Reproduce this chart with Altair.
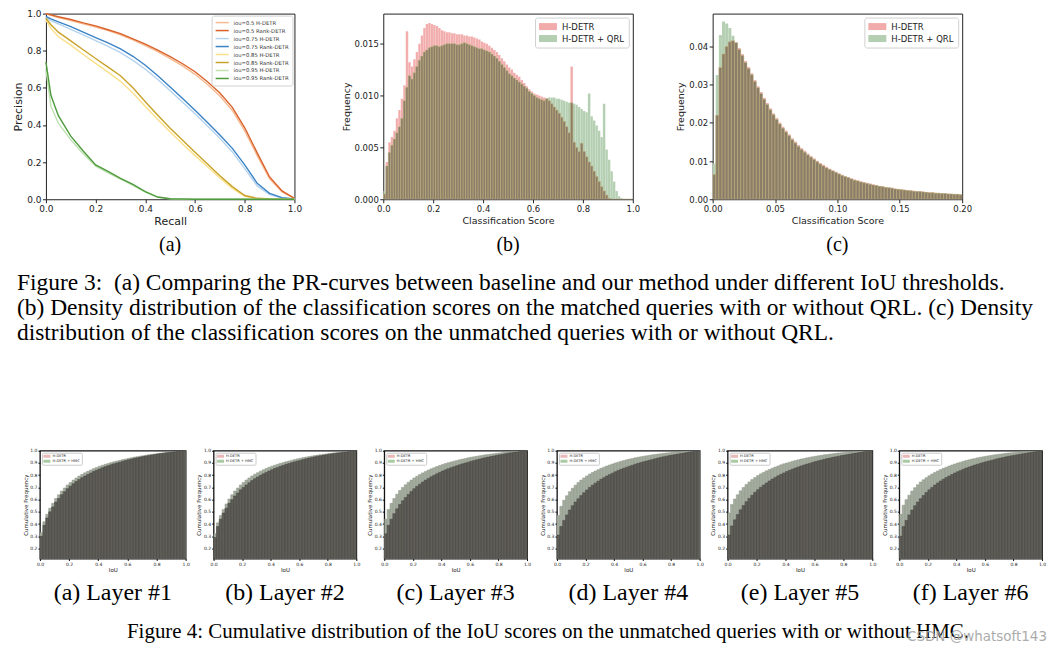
import altair as alt
import numpy as np
import pandas as pd

SANS = "DejaVu Sans"
SERIF = "Liberation Serif"

# ---------------- Figure 3 (a): PR curves ----------------
RECALL = [0.0, 0.02, 0.05, 0.1, 0.15, 0.2, 0.25, 0.3, 0.35, 0.4, 0.45, 0.5,
          0.55, 0.6, 0.65, 0.7, 0.75, 0.8, 0.85, 0.9, 0.95, 1.0]
PR_NAMES = ["iou=0.5 H-DETR", "iou=0.5 Rank-DETR", "iou=0.75 H-DETR", "iou=0.75 Rank-DETR",
            "iou=0.85 H-DETR", "iou=0.85 Rank-DETR", "iou=0.95 H-DETR", "iou=0.95 Rank-DETR"]
PR_COLORS = ["#f7b98f", "#d9622b", "#b5d3ef", "#3b83c5", "#fbe08a", "#c9a229", "#bfe2b1", "#4e9a3d"]
P05_H = [1.0, 0.99, 0.978, 0.962, 0.945, 0.928, 0.908, 0.886, 0.858, 0.828, 0.795, 0.758,
         0.718, 0.673, 0.618, 0.556, 0.478, 0.368, 0.235, 0.11, 0.04, 0.004]
P05_R = [1.0, 0.993, 0.983, 0.968, 0.95, 0.934, 0.913, 0.892, 0.864, 0.835, 0.803, 0.768,
         0.73, 0.687, 0.633, 0.572, 0.495, 0.385, 0.25, 0.12, 0.045, 0.005]
P075_H = [0.98, 0.962, 0.945, 0.915, 0.885, 0.855, 0.824, 0.79, 0.748, 0.7, 0.645, 0.585,
          0.522, 0.46, 0.395, 0.328, 0.255, 0.165, 0.072, 0.025, 0.006, 0.001]
P075_R = [0.985, 0.972, 0.955, 0.93, 0.9, 0.87, 0.842, 0.81, 0.77, 0.722, 0.665, 0.605,
          0.543, 0.48, 0.413, 0.346, 0.274, 0.185, 0.086, 0.032, 0.009, 0.001]
P085_H = [0.965, 0.92, 0.875, 0.83, 0.78, 0.732, 0.685, 0.635, 0.572, 0.5, 0.43, 0.362,
          0.298, 0.235, 0.175, 0.115, 0.058, 0.015, 0.003, 0.0, 0.0, 0.0]
P085_R = [0.975, 0.94, 0.9, 0.853, 0.805, 0.758, 0.712, 0.665, 0.6, 0.525, 0.452, 0.382,
          0.318, 0.253, 0.19, 0.127, 0.068, 0.02, 0.005, 0.001, 0.0, 0.0]
P095_H = [0.7, 0.5, 0.41, 0.32, 0.245, 0.178, 0.142, 0.108, 0.075, 0.038, 0.01, 0.002,
          0.0, 0.0, 0.0, 0.0, 0.0, 0.0, 0.0, 0.0, 0.0, 0.0]
P095_R = [0.74, 0.56, 0.45, 0.34, 0.26, 0.185, 0.15, 0.113, 0.08, 0.041, 0.012, 0.003,
          0.001, 0.0, 0.0, 0.0, 0.0, 0.0, 0.0, 0.0, 0.0, 0.0]
PR_SERIES = [P05_H, P05_R, P075_H, P075_R, P085_H, P085_R, P095_H, P095_R]

# ---------------- Figure 3 (b): matched queries, bin width 0.01 ----------------
B_HDETR = [0.0005, 0.0036, 0.0055, 0.0060, 0.0066, 0.0078, 0.0086, 0.0097, 0.0110, 0.0162,
           0.0132, 0.0128, 0.0135, 0.0142, 0.0150, 0.0158, 0.0165, 0.0169, 0.0170, 0.0169,
           0.0168, 0.0167, 0.0165, 0.0163, 0.0162, 0.0161, 0.0161, 0.0160, 0.0160, 0.0159,
           0.0159, 0.0159, 0.0158, 0.0158, 0.0157, 0.0157, 0.0156, 0.0155, 0.0154, 0.0152,
           0.0151, 0.0150, 0.0148, 0.0146, 0.0144, 0.0142, 0.0139, 0.0136, 0.0133, 0.0130,
           0.0127, 0.0125, 0.0122, 0.0120, 0.0118, 0.0115, 0.0112, 0.0109, 0.0106, 0.0104,
           0.0102, 0.0101, 0.0100, 0.0099, 0.0098, 0.0097, 0.0095, 0.0092, 0.0089, 0.0086,
           0.0083, 0.0079, 0.0075, 0.0070, 0.0064, 0.0128, 0.0055, 0.0050, 0.0046, 0.0054,
           0.0046, 0.0041, 0.0036, 0.0032, 0.0027, 0.0022, 0.0017, 0.0012, 0.0008, 0.0004,
           0.0001, 0.0, 0.0, 0.0, 0.0, 0.0, 0.0, 0.0, 0.0, 0.0]
B_QRL = [0.0008, 0.0032, 0.0045, 0.0052, 0.0058, 0.0064, 0.0070, 0.0078, 0.0095, 0.0108,
         0.0119, 0.0116, 0.0122, 0.0128, 0.0134, 0.0138, 0.0142, 0.0144, 0.0146, 0.0147,
         0.0148, 0.0148, 0.0147, 0.0148, 0.0149, 0.0150, 0.0150, 0.0150, 0.0150, 0.0149,
         0.0149, 0.0150, 0.0151, 0.0150, 0.0149, 0.0148, 0.0147, 0.0146, 0.0145, 0.0145,
         0.0144, 0.0143, 0.0142, 0.0140, 0.0138, 0.0136, 0.0133, 0.0130, 0.0127, 0.0124,
         0.0121, 0.0119, 0.0117, 0.0115, 0.0113, 0.0111, 0.0109, 0.0107, 0.0104, 0.0102,
         0.0100, 0.0098, 0.0097, 0.0096, 0.0095, 0.0097, 0.0098, 0.0098, 0.0098, 0.0097,
         0.0097, 0.0096, 0.0095, 0.0094, 0.0093, 0.0093, 0.0092, 0.0091, 0.0089, 0.0087,
         0.0085, 0.0084, 0.0102, 0.0080, 0.0076, 0.0071, 0.0066, 0.0060, 0.0092, 0.0048,
         0.0038, 0.0027, 0.0017, 0.0008, 0.0003, 0.0001, 0.0, 0.0, 0.0, 0.0]

# ---------------- Figure 3 (c): unmatched queries, bin width 0.0025 ----------------
C_HDETR = [0.0065, 0.0220, 0.0345, 0.0380, 0.0400, 0.0412, 0.0415, 0.0410, 0.0396, 0.0380,
           0.0362, 0.0346, 0.0330, 0.0312, 0.0296, 0.0281, 0.0266, 0.0252, 0.0238, 0.0225,
           0.0213, 0.0201, 0.0190, 0.0180, 0.0170, 0.0160, 0.0151, 0.0142, 0.0134, 0.0127,
           0.0120, 0.0113, 0.0107, 0.0101, 0.0095, 0.0090, 0.0085, 0.0080, 0.0076, 0.0072,
           0.0068, 0.0064, 0.0061, 0.0058, 0.0055, 0.0052, 0.0050, 0.0047, 0.0045, 0.0043,
           0.0041, 0.0039, 0.0037, 0.0035, 0.0034, 0.0032, 0.0031, 0.0030, 0.0028, 0.0027,
           0.0026, 0.0025, 0.0024, 0.0023, 0.0022, 0.0021, 0.0020, 0.0020, 0.0019, 0.0018,
           0.0018, 0.0017, 0.0016, 0.0016, 0.0015, 0.0015, 0.0014, 0.0014, 0.0013, 0.0013]
C_QRL = [0.0093, 0.0325, 0.0430, 0.0465, 0.0460, 0.0448, 0.0428, 0.0410, 0.0392, 0.0376,
         0.0358, 0.0342, 0.0326, 0.0308, 0.0292, 0.0277, 0.0262, 0.0248, 0.0234, 0.0221,
         0.0209, 0.0197, 0.0186, 0.0176, 0.0166, 0.0156, 0.0147, 0.0138, 0.0130, 0.0123,
         0.0116, 0.0110, 0.0104, 0.0098, 0.0092, 0.0087, 0.0082, 0.0078, 0.0074, 0.0070,
         0.0066, 0.0062, 0.0059, 0.0056, 0.0053, 0.0050, 0.0048, 0.0045, 0.0043, 0.0041,
         0.0039, 0.0037, 0.0036, 0.0034, 0.0033, 0.0031, 0.0030, 0.0029, 0.0027, 0.0026,
         0.0025, 0.0024, 0.0023, 0.0022, 0.0021, 0.0020, 0.0020, 0.0019, 0.0018, 0.0017,
         0.0017, 0.0016, 0.0016, 0.0015, 0.0015, 0.0014, 0.0014, 0.0013, 0.0013, 0.0012]

# ---------------- Figure 4: cumulative IoU distributions, bin width 0.02 ----------------
L1_H = [0.30, 0.39, 0.45, 0.50, 0.54, 0.58, 0.61, 0.64, 0.665, 0.69,
        0.71, 0.73, 0.748, 0.765, 0.78, 0.793, 0.806, 0.818, 0.83, 0.841,
        0.851, 0.861, 0.87, 0.878, 0.886, 0.893, 0.90, 0.907, 0.914, 0.92,
        0.926, 0.932, 0.938, 0.943, 0.948, 0.953, 0.958, 0.962, 0.966, 0.97,
        0.974, 0.977, 0.98, 0.983, 0.986, 0.989, 0.992, 0.995, 0.997, 1.0]
L1_G = [0.33, 0.42, 0.48, 0.53, 0.57, 0.61, 0.64, 0.67, 0.695, 0.72,
        0.74, 0.76, 0.777, 0.793, 0.807, 0.82, 0.832, 0.843, 0.854, 0.864,
        0.873, 0.881, 0.889, 0.896, 0.903, 0.91, 0.916, 0.922, 0.928, 0.933,
        0.938, 0.943, 0.948, 0.952, 0.956, 0.96, 0.964, 0.968, 0.971, 0.974,
        0.977, 0.98, 0.983, 0.986, 0.988, 0.99, 0.993, 0.995, 0.998, 1.0]
L2_H = [0.29, 0.38, 0.44, 0.49, 0.53, 0.57, 0.60, 0.63, 0.655, 0.68,
        0.70, 0.72, 0.739, 0.756, 0.772, 0.786, 0.799, 0.811, 0.823, 0.834,
        0.845, 0.855, 0.864, 0.873, 0.881, 0.889, 0.896, 0.903, 0.91, 0.916,
        0.922, 0.928, 0.934, 0.94, 0.945, 0.95, 0.955, 0.959, 0.963, 0.967,
        0.971, 0.975, 0.978, 0.981, 0.984, 0.987, 0.99, 0.993, 0.996, 1.0]
L2_G = [0.32, 0.41, 0.47, 0.52, 0.565, 0.605, 0.64, 0.67, 0.695, 0.72,
        0.741, 0.761, 0.778, 0.794, 0.808, 0.821, 0.833, 0.844, 0.855, 0.865,
        0.874, 0.882, 0.89, 0.897, 0.904, 0.911, 0.917, 0.923, 0.929, 0.934,
        0.939, 0.944, 0.949, 0.953, 0.957, 0.961, 0.965, 0.968, 0.971, 0.974,
        0.977, 0.98, 0.983, 0.985, 0.987, 0.99, 0.992, 0.995, 0.998, 1.0]
L3_H = [0.32, 0.39, 0.44, 0.485, 0.525, 0.56, 0.59, 0.617, 0.643, 0.667,
        0.689, 0.709, 0.727, 0.744, 0.76, 0.774, 0.787, 0.80, 0.812, 0.823,
        0.834, 0.844, 0.853, 0.862, 0.87, 0.878, 0.886, 0.893, 0.90, 0.907,
        0.914, 0.92, 0.926, 0.932, 0.938, 0.943, 0.948, 0.953, 0.958, 0.963,
        0.967, 0.971, 0.975, 0.979, 0.983, 0.987, 0.99, 0.993, 0.996, 1.0]
L3_G = [0.44, 0.52, 0.57, 0.61, 0.645, 0.675, 0.70, 0.722, 0.742, 0.76,
        0.777, 0.792, 0.806, 0.819, 0.831, 0.842, 0.852, 0.862, 0.871, 0.88,
        0.888, 0.895, 0.902, 0.909, 0.915, 0.921, 0.927, 0.932, 0.937, 0.942,
        0.947, 0.951, 0.955, 0.959, 0.963, 0.967, 0.97, 0.973, 0.976, 0.979,
        0.982, 0.985, 0.987, 0.989, 0.991, 0.993, 0.995, 0.997, 0.999, 1.0]
L4_H = [0.31, 0.38, 0.43, 0.475, 0.515, 0.55, 0.58, 0.607, 0.633, 0.657,
        0.679, 0.70, 0.718, 0.735, 0.751, 0.766, 0.78, 0.793, 0.805, 0.817,
        0.828, 0.838, 0.848, 0.857, 0.866, 0.874, 0.882, 0.89, 0.897, 0.904,
        0.911, 0.917, 0.923, 0.929, 0.935, 0.941, 0.946, 0.951, 0.956, 0.961,
        0.965, 0.969, 0.973, 0.977, 0.981, 0.985, 0.989, 0.993, 0.996, 1.0]
L4_G = [0.47, 0.545, 0.595, 0.632, 0.665, 0.693, 0.718, 0.74, 0.76, 0.778,
        0.794, 0.809, 0.822, 0.834, 0.845, 0.856, 0.866, 0.875, 0.884, 0.892,
        0.90, 0.907, 0.914, 0.92, 0.926, 0.932, 0.937, 0.942, 0.947, 0.951,
        0.955, 0.959, 0.963, 0.967, 0.97, 0.973, 0.976, 0.979, 0.982, 0.984,
        0.986, 0.988, 0.99, 0.992, 0.994, 0.995, 0.996, 0.998, 0.999, 1.0]
L5_H = [0.31, 0.385, 0.435, 0.478, 0.517, 0.552, 0.583, 0.61, 0.636, 0.66,
        0.682, 0.702, 0.72, 0.737, 0.753, 0.768, 0.782, 0.795, 0.807, 0.819,
        0.83, 0.84, 0.85, 0.859, 0.868, 0.876, 0.884, 0.891, 0.898, 0.905,
        0.912, 0.918, 0.924, 0.93, 0.936, 0.941, 0.946, 0.951, 0.956, 0.961,
        0.965, 0.969, 0.973, 0.977, 0.981, 0.985, 0.989, 0.993, 0.996, 1.0]
L5_G = [0.49, 0.56, 0.605, 0.64, 0.672, 0.70, 0.724, 0.745, 0.764, 0.781,
        0.797, 0.811, 0.824, 0.836, 0.847, 0.857, 0.867, 0.876, 0.885, 0.893,
        0.90, 0.907, 0.914, 0.92, 0.926, 0.932, 0.937, 0.942, 0.947, 0.951,
        0.955, 0.959, 0.963, 0.967, 0.97, 0.973, 0.976, 0.979, 0.982, 0.984,
        0.986, 0.988, 0.99, 0.992, 0.994, 0.995, 0.996, 0.998, 0.999, 1.0]
L6_H = [0.30, 0.38, 0.43, 0.475, 0.515, 0.55, 0.58, 0.608, 0.634, 0.658,
        0.68, 0.70, 0.719, 0.736, 0.752, 0.767, 0.781, 0.794, 0.806, 0.818,
        0.829, 0.839, 0.849, 0.858, 0.867, 0.875, 0.883, 0.89, 0.897, 0.904,
        0.911, 0.917, 0.923, 0.929, 0.935, 0.94, 0.945, 0.95, 0.955, 0.96,
        0.964, 0.968, 0.972, 0.976, 0.98, 0.984, 0.988, 0.992, 0.996, 1.0]
L6_G = [0.48, 0.555, 0.60, 0.637, 0.67, 0.698, 0.722, 0.744, 0.763, 0.78,
        0.796, 0.81, 0.823, 0.835, 0.846, 0.856, 0.866, 0.875, 0.884, 0.892,
        0.90, 0.907, 0.914, 0.92, 0.926, 0.932, 0.937, 0.942, 0.947, 0.951,
        0.955, 0.959, 0.963, 0.967, 0.97, 0.973, 0.976, 0.979, 0.982, 0.984,
        0.986, 0.988, 0.99, 0.992, 0.994, 0.995, 0.996, 0.998, 0.999, 1.0]
LAYERS_H = [L1_H, L2_H, L3_H, L4_H, L5_H, L6_H]
LAYERS_G = [L1_G, L2_G, L3_G, L4_G, L5_G, L6_G]
LAYER_LABELS = ["(a) Layer #1", "(b) Layer #2", "(c) Layer #3",
                "(d) Layer #4", "(e) Layer #5", "(f) Layer #6"]

CAPTION3 = [
    "Figure 3:\u00a0\u00a0(a) Comparing the PR-curves between baseline and our method under different IoU thresholds.",
    "(b) Density distribution of the classification scores on the matched queries with or without QRL. (c) Density",
    "distribution of the classification scores on the unmatched queries with or without QRL.",
]
CAPTION4 = "Figure 4: Cumulative distribution of the IoU scores on the unmatched queries with or without HMC."
WATERMARK = "CSDN @whatsoft143"

PINK = "#f2abab"
GREEN = "#b3ceb0"
BROWN = "#8b7e69"
FRAME = alt.ViewBackground(stroke="#222222", strokeWidth=1)
NOFRAME = alt.ViewBackground(stroke="transparent")
T01 = [0, 0.2, 0.4, 0.6, 0.8, 1.0]


def sub_title(text, offset, size=20):
    return alt.TitleParams(text, orient="bottom", anchor="middle", font=SERIF, fontSize=size,
                           fontWeight="normal", color="black", offset=offset)


def spacer(w, h):
    return alt.Chart(pd.DataFrame({"v": [0]})).mark_point(opacity=0).encode(
        x=alt.X("v:Q", axis=None), y=alt.Y("v:Q", axis=None)
    ).properties(width=w, height=h, view=NOFRAME)


def top_axis(title, values, fmt):
    return alt.Axis(title=title, values=values, format=fmt, labelFontSize=8.5, titleFontSize=9.5,
                    tickSize=3.5, labelPadding=1.5, titlePadding=3, labelFlush=False,
                    labelOverlap=False)


# ---------- (a) ----------
rows = []
for name, vals in zip(PR_NAMES, PR_SERIES):
    for r, p in zip(RECALL, vals):
        rows.append({"iou": name, "recall": r, "precision": p})
pr_df = pd.DataFrame(rows)
chart_a = alt.Chart(pr_df).mark_line(strokeWidth=1.4).encode(
    x=alt.X("recall:Q", scale=alt.Scale(domain=[0, 1], nice=False),
            axis=alt.Axis(title="Recall", values=T01, format=".1f", labelFontSize=9, titleFontSize=11,
                          tickSize=3.5, labelPadding=1.5, titlePadding=2, labelFlush=False)),
    y=alt.Y("precision:Q", scale=alt.Scale(domain=[0, 1], nice=False),
            axis=alt.Axis(title="Precision", values=T01, format=".1f", labelFontSize=9, titleFontSize=11,
                          tickSize=3.5, labelPadding=1.5, titlePadding=3, labelFlush=False)),
    color=alt.Color("iou:N", sort=PR_NAMES, scale=alt.Scale(domain=PR_NAMES, range=PR_COLORS),
                    legend=alt.Legend(title=None, orient="top-right", offset=2, padding=3,
                                      fillColor="white", strokeColor="#d0d0d0", cornerRadius=2,
                                      symbolType="M-1,0H3.4", symbolSize=36, symbolStrokeWidth=1.5,
                                      labelFontSize=5.3, labelFont=SANS, labelColor="#333333",
                                      rowPadding=0, labelOffset=11)),
).properties(width=249, height=186, title=sub_title("(a)", 9), view=FRAME)


# ---------- (b), (c) ----------
def density_panel(h_vals, q_vals, bw, field, xdom, xvals, xfmt, ydom, yvals, yfmt, label, width):
    n = min(len(h_vals), len(q_vals))
    x0 = [i * bw for i in range(n)]
    df = pd.DataFrame({"x0": x0, "x1": [x + bw for x in x0],
                       "H-DETR": h_vals[:n], "H-DETR + QRL": q_vals[:n]})
    df["overlap"] = np.minimum(df["H-DETR"], df["H-DETR + QRL"])
    long = df.melt(id_vars=["x0", "x1"], value_vars=["H-DETR", "H-DETR + QRL"],
                   var_name=field, value_name="freq")
    xs = alt.Scale(domain=xdom, nice=False)
    ys = alt.Scale(domain=ydom, nice=False)
    xa = top_axis("Classification Score", xvals, xfmt)
    ya = top_axis("Frequency", yvals, yfmt)
    colored = alt.Chart(long).mark_bar(clip=True, stroke="#ffffff", strokeOpacity=0.35,
                                       strokeWidth=0.4).encode(
        x=alt.X("x0:Q", scale=xs, axis=xa),
        x2="x1:Q",
        y=alt.Y("freq:Q", scale=ys, axis=ya),
        y2=alt.datum(0),
        color=alt.Color(f"{field}:N", scale=alt.Scale(domain=["H-DETR", "H-DETR + QRL"], range=[PINK, GREEN]),
                        legend=alt.Legend(title=None, orient="top-right", offset=4, padding=4,
                                          fillColor="white", strokeColor="#d0d0d0", cornerRadius=2,
                                          symbolType="M-1,-0.7H2.6V0.7H-1Z", symbolSize=100,
                                          symbolStrokeWidth=0, labelFontSize=8.5, labelFont=SANS,
                                          labelColor="#222222", rowPadding=2, labelOffset=13)),
    )
    over = alt.Chart(df).mark_bar(clip=True, color=BROWN, stroke="#c6b37c", strokeWidth=0.5).encode(
        x=alt.X("x0:Q", scale=xs, axis=xa), x2="x1:Q",
        y=alt.Y("overlap:Q", scale=ys, axis=ya), y2=alt.datum(0),
    )
    return alt.layer(colored, over).properties(width=width, height=186, title=sub_title(label, 10),
                                               view=FRAME)


chart_b = density_panel(B_HDETR, B_QRL, 0.01, "method_b", [0, 1], T01, ".1f",
                        [0, 0.0179], [0, 0.005, 0.01, 0.015], ".3f", "(b)", 250)
chart_c = density_panel(C_HDETR, C_QRL, 0.0025, "method_c", [0, 0.2], [0, 0.05, 0.1, 0.15, 0.2], ".2f",
                        [0, 0.0486], [0, 0.01, 0.02, 0.03, 0.04], ".2f", "(c)", 250)

row1 = alt.hconcat(spacer(37, 186), chart_a, spacer(89, 186), chart_b, spacer(80, 186), chart_c,
                   spacing=0, bounds="flush").resolve_scale(color="independent")


# ---------- Figure 4 panels ----------
def small_axis(title, values):
    return alt.Axis(title=title, values=values, format=".1f", labelFontSize=4.5, titleFontSize=5.5,
                    tickSize=2, labelPadding=1, titlePadding=1.5, labelFlush=False, labelOverlap=False,
                    tickColor="#111111")


YT = [0.2, 0.3, 0.4, 0.5, 0.6, 0.7, 0.8, 0.9, 1.0]


def cdf_panel(h_vals, g_vals, idx, label, width):
    n = min(len(h_vals), len(g_vals))
    x0 = [i * 0.02 for i in range(n)]
    df = pd.DataFrame({"x0": x0, "x1": [x + 0.02 for x in x0], "h": h_vals[:n], "g": g_vals[:n]})
    xs = alt.Scale(domain=[0, 1], nice=False)
    ys = alt.Scale(domain=[0.118, 1.0], nice=False, zero=False)
    xa = small_axis("IoU", T01)
    ya = small_axis("Cumulative Frequency", YT)
    field = f"m{idx}"
    green = alt.Chart(df).mark_bar(clip=True, color="#a3ac9e", stroke="#8d9688", strokeWidth=0.5).encode(
        x=alt.X("x0:Q", scale=xs, axis=xa), x2="x1:Q",
        y=alt.Y("g:Q", scale=ys, axis=ya), y2=alt.datum(0),
    )
    dark = alt.Chart(df).mark_bar(clip=True, color="#5e5d58", stroke="#44433f", strokeWidth=0.5).encode(
        x=alt.X("x0:Q", scale=xs, axis=xa), x2="x1:Q",
        y=alt.Y("h:Q", scale=ys, axis=ya), y2=alt.datum(0),
    )
    leg = alt.Chart(pd.DataFrame({field: ["H-DETR", "H-DETR + HMC"]})).mark_square(opacity=0).encode(
        color=alt.Color(f"{field}:N", scale=alt.Scale(domain=["H-DETR", "H-DETR + HMC"],
                                                      range=["#e9b7b7", "#aacaa3"]),
                        legend=alt.Legend(title=None, orient="top-left", offset=2, padding=1.5,
                                          fillColor="white", strokeColor="#cccccc", cornerRadius=1,
                                          symbolType="M-1,-0.75H2.5V0.75H-1Z", symbolSize=16,
                                          symbolOpacity=1, symbolStrokeWidth=0, labelFontSize=3.6,
                                          labelFont=SANS, labelColor="#222222", rowPadding=1,
                                          labelOffset=5)),
    )
    return alt.layer(green, dark, leg).properties(
        width=width, height=108, title=sub_title(label, 8, 24),
        view=alt.ViewBackground(stroke="#111111", strokeWidth=1.3))


widths = [146, 143, 143, 143, 145, 143]
gaps = [31, 28, 28, 30, 28, 27]
items = []
for i in range(6):
    items.append(spacer(gaps[i], 108))
    items.append(cdf_panel(LAYERS_H[i], LAYERS_G[i], i + 1, LAYER_LABELS[i], widths[i]))
row3 = alt.hconcat(*items, spacing=0, bounds="flush").resolve_scale(color="independent")

# ---------- captions (the nested rows take no height in the flush layout,
# so each caption block also spans the row of panels above it) ----------
CAP3_H = 438
cap3_df = pd.DataFrame({"line": [0, 1, 2], "text": CAPTION3})
cap3 = alt.Chart(cap3_df).mark_text(align="left", baseline="middle", font=SERIF, fontSize=23.5,
                                    color="black").encode(
    x=alt.value(8),
    y=alt.Y("line:Q", axis=None,
            scale=alt.Scale(domain=[-270 / 25, (CAP3_H - 270) / 25], nice=False, zero=False, reverse=True)),
    text="text:N",
).properties(width=1045, height=CAP3_H, view=NOFRAME)

cap4 = alt.layer(
    alt.Chart(pd.DataFrame({"text": [CAPTION4]})).mark_text(
        align="center", baseline="middle", font=SERIF, fontSize=21, color="black"
    ).encode(x=alt.value(540), y=alt.value(182), text="text:N"),
    alt.Chart(pd.DataFrame({"text": [WATERMARK]})).mark_text(
        align="right", baseline="middle", font=SANS, fontSize=13.5, color="#a3a3a3", opacity=0.9
    ).encode(x=alt.value(1040), y=alt.value(187), text="text:N"),
).properties(width=1045, height=194, view=NOFRAME)

chart = alt.vconcat(row1, cap3, row3, cap4, spacing=0, bounds="flush").resolve_scale(
    color="independent"
).properties(padding=0).configure_axis(
    labelFont=SANS, titleFont=SANS, labelColor="#222222", titleColor="#222222", tickColor="#222222",
    domain=False, grid=False, titleFontWeight="normal", labelOverlap=False
).configure_view(stroke="#222222")

chart.save("out.html", embed_options={"renderer": "svg", "actions": False})
